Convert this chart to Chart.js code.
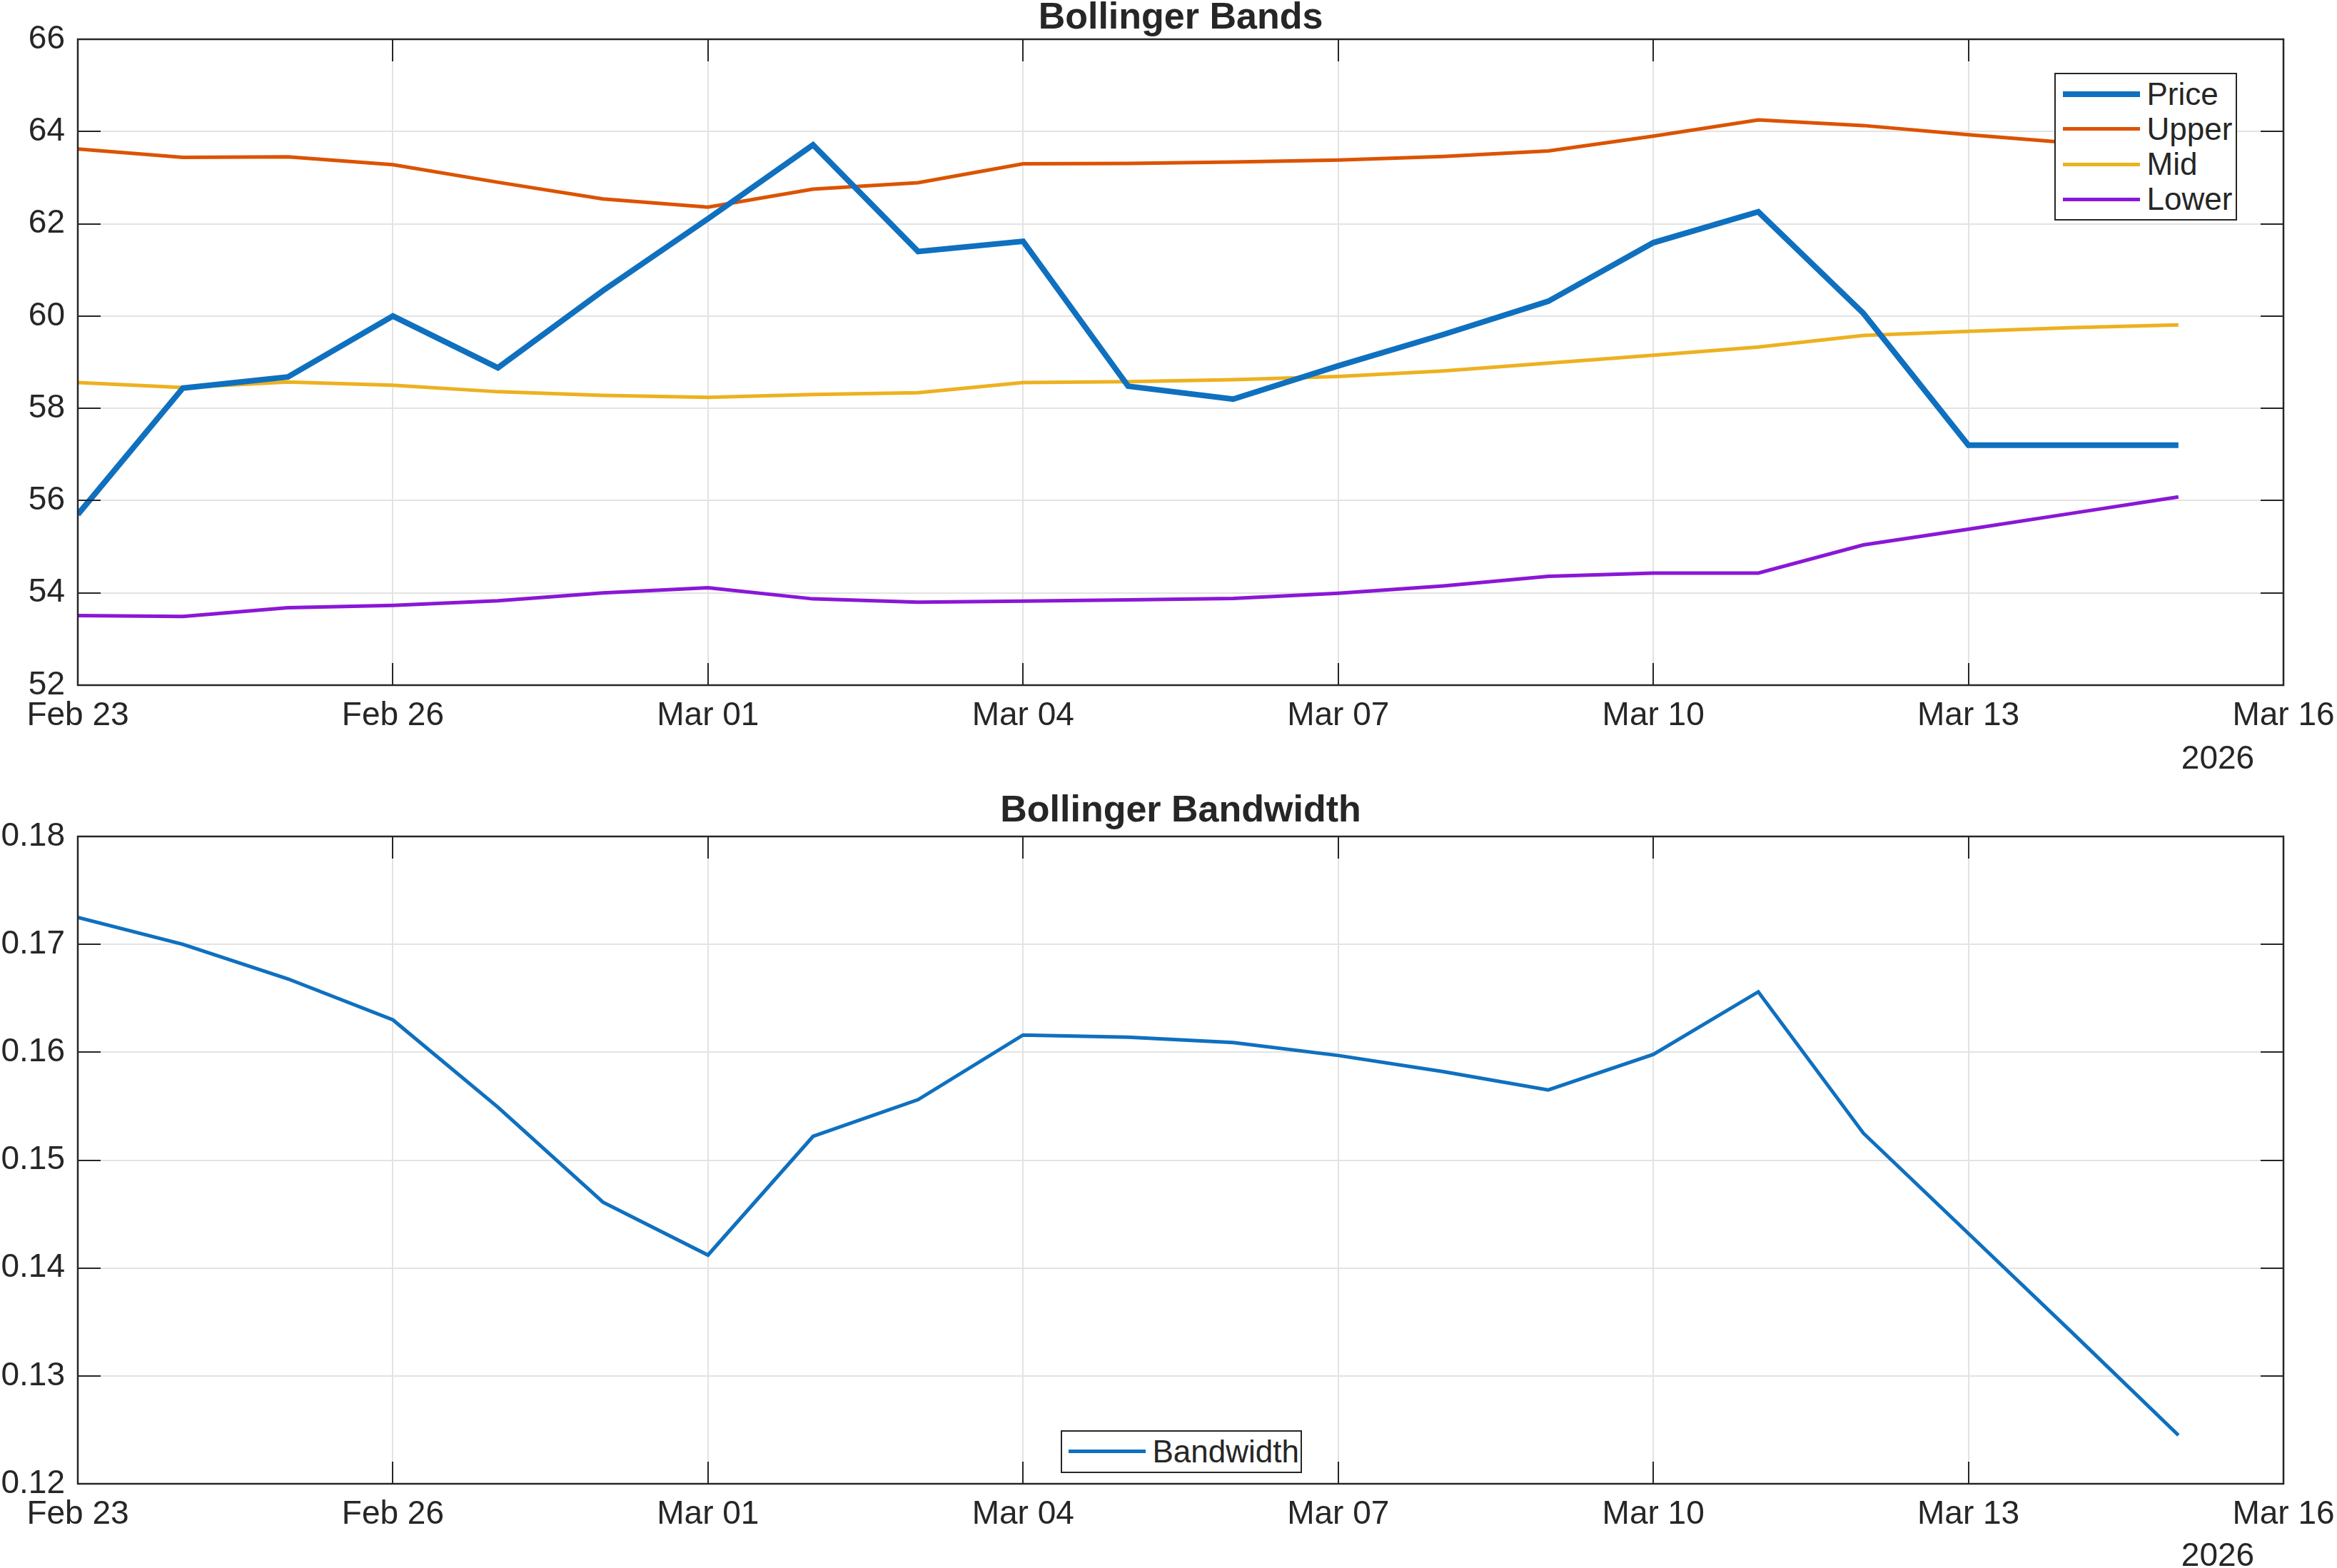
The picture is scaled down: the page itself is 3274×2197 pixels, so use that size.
<!DOCTYPE html>
<html>
<head>
<meta charset="utf-8">
<script src="https://cdn.jsdelivr.net/npm/chart.js@4.4.1/dist/chart.umd.min.js"></script>
<style>
  html, body { margin: 0; padding: 0; background: #ffffff; }
  body { width: 3274px; height: 2197px; position: relative; overflow: hidden; font-family: "Liberation Sans", Arial, sans-serif; }
  canvas { position: absolute; left: 0; }
  #c1 { top: 0; }
  #c2 { top: 1100px; }
  .legend { position: absolute; box-sizing: border-box; background: #ffffff; border: 2.5px solid #262626; color: #262626; font-size: 44px; }
  .legend .row { position: absolute; height: 50px; display: flex; align-items: center; white-space: nowrap; }
  .legend .sw { width: 108px; margin-right: 10px; }
</style>
</head>
<body>
<canvas id="c1" width="3274" height="1100"></canvas>
<canvas id="c2" width="3274" height="1097"></canvas>
<div id="leg1" class="legend" style="left:2878px; top:102px; width:256px; height:207px;"></div>
<div id="leg2" class="legend" style="left:1486px; top:2004px; width:338px; height:60px;"></div>
<script>
// ---- data ----
const dates = ['2026-02-23','2026-02-24','2026-02-25','2026-02-26','2026-02-27','2026-02-28','2026-03-01',
               '2026-03-02','2026-03-03','2026-03-04','2026-03-05','2026-03-06','2026-03-07','2026-03-08',
               '2026-03-09','2026-03-10','2026-03-11','2026-03-12','2026-03-13','2026-03-14','2026-03-15'];
const price = [55.70, 58.44, 58.68, 60.00, 58.88, 60.55, 62.11, 63.71, 61.40, 61.62, 58.48,
               58.20, 58.92, 59.60, 60.32, 61.59, 62.26, 60.06, 57.20, 57.20, 57.20];
const upper = [63.62, 63.44, 63.45, 63.28, 62.90, 62.54, 62.36, 62.75, 62.89, 63.30, 63.31,
               63.34, 63.38, 63.46, 63.58, 63.90, 64.25, 64.13, 63.93, 63.75, 63.54];
const mid   = [58.56, 58.45, 58.57, 58.50, 58.36, 58.28, 58.24, 58.30, 58.34, 58.56, 58.58,
               58.62, 58.69, 58.81, 58.98, 59.15, 59.33, 59.58, 59.67, 59.75, 59.81];
const lower = [53.51, 53.49, 53.68, 53.73, 53.83, 54.00, 54.11, 53.87, 53.80, 53.82, 53.85,
               53.88, 53.99, 54.15, 54.36, 54.43, 54.43, 55.04, 55.38, 55.73, 56.08];
const bandwidth = [0.1725, 0.1700, 0.1668, 0.1630, 0.1549, 0.1461, 0.1412, 0.1522, 0.1556, 0.1616, 0.1614,
                   0.1609, 0.1597, 0.1582, 0.1565, 0.1598, 0.1656, 0.1525, 0.1432, 0.1339, 0.1245];
const xTickLabels = ['Feb 23','Feb 26','Mar 01','Mar 04','Mar 07','Mar 10','Mar 13','Mar 16'];
const yearLabel = '2026';
const topTitle = 'Bollinger Bands';
const bottomTitle = 'Bollinger Bandwidth';

// ---- helpers ----
const DAY = 86400000;
const t0 = Date.parse(dates[0] + 'T00:00:00Z');
const dayIdx = dates.map(d => (Date.parse(d + 'T00:00:00Z') - t0) / DAY);
const pts = arr => arr.map((v, i) => ({ x: dayIdx[i], y: v }));
const xMax = (xTickLabels.length - 1) * 3;

const FONT = '"Liberation Sans", Arial, sans-serif';
const INK = '#262626';
Chart.defaults.font.family = FONT;
Chart.defaults.color = INK;

const framePlugin = {
  id: 'frame',
  afterDatasetsDraw(chart, args, opts) {
    const { ctx, chartArea: a } = chart;
    const x = chart.scales.x, y = chart.scales.y;
    ctx.save();
    ctx.strokeStyle = INK;
    ctx.lineWidth = 2;
    ctx.beginPath();
    x.ticks.forEach(t => {
      const px = Math.round(x.getPixelForValue(t.value));
      ctx.moveTo(px, a.bottom); ctx.lineTo(px, a.bottom - 31);
      ctx.moveTo(px, a.top); ctx.lineTo(px, a.top + 31);
    });
    y.ticks.forEach(t => {
      const py = Math.round(y.getPixelForValue(t.value));
      ctx.moveTo(a.left, py); ctx.lineTo(a.left + 32, py);
      ctx.moveTo(a.right, py); ctx.lineTo(a.right - 32, py);
    });
    ctx.stroke();
    ctx.lineWidth = 2.5;
    ctx.strokeRect(a.left, a.top, a.right - a.left, a.bottom - a.top);
    // secondary (year) label under the last date tick
    ctx.fillStyle = INK;
    ctx.font = '46px ' + FONT;
    ctx.textAlign = 'center';
    ctx.textBaseline = 'alphabetic';
    ctx.fillText(opts.text, x.getPixelForValue(xMax) - 92, a.bottom + opts.dy);
    ctx.restore();
  }
};

function xScale(height) {
  return {
    type: 'linear', min: 0, max: xMax,
    grid: { color: '#e3e3e3', lineWidth: 2, drawTicks: false },
    border: { display: false },
    ticks: {
      stepSize: 3, autoSkip: false, maxRotation: 0, padding: 16,
      font: { size: 46 }, color: INK,
      callback: (v, i) => xTickLabels[i]
    },
    afterFit: s => { s.height = height; s.paddingLeft = 0; s.paddingRight = 0; }
  };
}
function yScale(min, max, step, fmt) {
  return {
    min: min, max: max,
    grid: { color: '#e3e3e3', lineWidth: 2, drawTicks: false },
    border: { display: false },
    ticks: { stepSize: step, padding: 18, font: { size: 46 }, color: INK, callback: fmt },
    afterFit: s => { s.width = 109; s.paddingTop = 0; s.paddingBottom = 0; }
  };
}
function ds(label, data, color, width) {
  return { label, data: pts(data), borderColor: color, backgroundColor: color,
           borderWidth: width, pointRadius: 0, tension: 0, fill: false,
           borderJoinStyle: 'miter', borderCapStyle: 'butt' };
}

const chart1 = new Chart(document.getElementById('c1'), {
  type: 'line',
  data: { datasets: [
    ds('Price', price, '#0F70BF', 8),
    ds('Upper', upper, '#DC5300', 5),
    ds('Mid', mid, '#EDB120', 5),
    ds('Lower', lower, '#8A17D6', 5)
  ]},
  options: {
    responsive: false, animation: false,
    layout: { padding: { top: 0, left: 0, right: 75, bottom: 0 } },
    scales: { x: xScale(140), y: yScale(52, 66, 2, v => String(v)) },
    plugins: {
      legend: { display: false }, tooltip: { enabled: false },
      title: { display: true, fullSize: false, text: topTitle, color: INK,
               font: { size: 52, weight: 'bold', lineHeight: 1 }, padding: { top: 0, bottom: 3 } },
      frame: { text: yearLabel, dy: 117 }
    }
  },
  plugins: [framePlugin]
});

const chart2 = new Chart(document.getElementById('c2'), {
  type: 'line',
  data: { datasets: [ ds('Bandwidth', bandwidth, '#0F70BF', 5) ] },
  options: {
    responsive: false, animation: false,
    layout: { padding: { top: 11, left: 0, right: 75, bottom: 0 } },
    scales: { x: xScale(118), y: yScale(0.12, 0.18, 0.01, v => v.toFixed(2)) },
    plugins: {
      legend: { display: false }, tooltip: { enabled: false },
      title: { display: true, fullSize: false, text: bottomTitle, color: INK,
               font: { size: 52, weight: 'bold', lineHeight: 1 }, padding: { top: 0, bottom: 9 } },
      frame: { text: yearLabel, dy: 115 }
    }
  },
  plugins: [framePlugin]
});

// HTML legends built from the chart datasets
function buildLegend(el, chart, firstCenter, step, swLeft) {
  chart.data.datasets.forEach((d, i) => {
    const row = document.createElement('div');
    row.className = 'row';
    row.style.left = swLeft + 'px';
    row.style.top = (firstCenter + i * step - 25) + 'px';
    const sw = document.createElement('div');
    sw.className = 'sw';
    sw.style.height = d.borderWidth + 'px';
    sw.style.background = d.borderColor;
    const tx = document.createElement('span');
    tx.textContent = d.label;
    row.appendChild(sw); row.appendChild(tx);
    el.appendChild(row);
  });
}
buildLegend(document.getElementById('leg1'), chart1, 27.5, 49.3, 9.5);
buildLegend(document.getElementById('leg2'), chart2, 27.5, 49.3, 8.5);
</script>
</body>
</html>
